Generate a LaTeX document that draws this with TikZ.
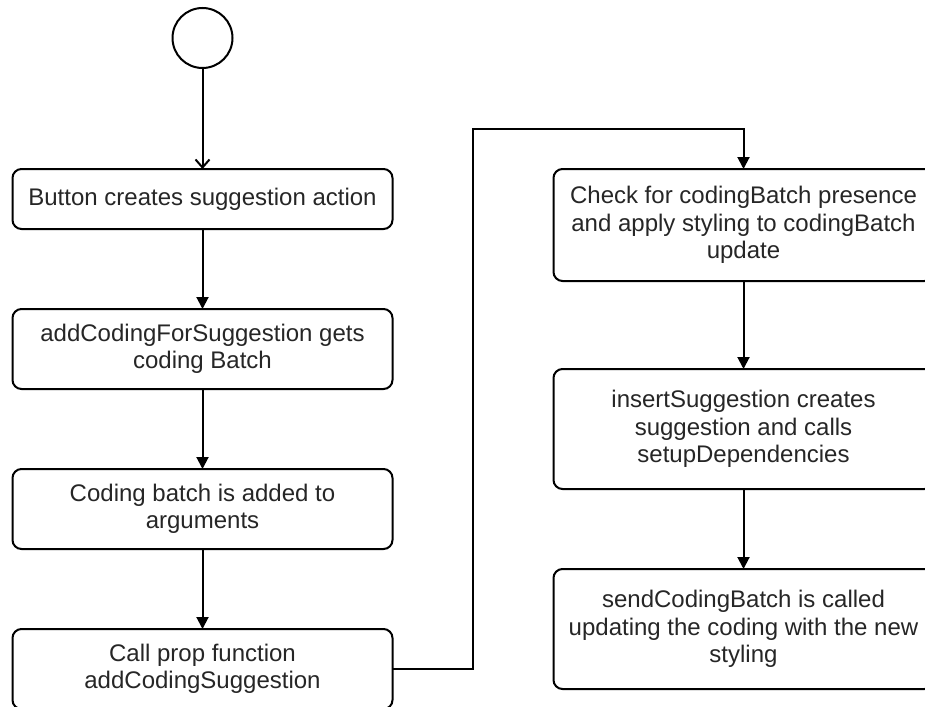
\documentclass[tikz,border=0pt]{standalone}
\usepackage{fontspec}
\setmainfont{Liberation Sans}
\usetikzlibrary{positioning,arrows.meta}

\tikzstyle{stepbox} = [rectangle, rounded corners=9pt, minimum width=380pt, minimum height=60pt, outer sep=0pt, text centered, align=center, draw=black, fill=white, line width=2pt, text=black!85, font=\fontsize{24}{27.5}\selectfont]
\tikzstyle{startcircle} = [circle, minimum size=60pt, inner sep=0pt, outer sep=0pt, draw=black, line width=2pt]
\tikzstyle{arrow} = [line width=2pt, -{Triangle[length=12pt,width=12pt]}]
\tikzstyle{open_arrow} = [line width=2pt, -{Straight Barb[length=8pt,width=14pt]}]

\begin{document}
\begin{tikzpicture}[x=1pt, y=-1pt, node distance=80pt]
    \clip (0,0) rectangle (925,706);

    % Nodes
    \node (start) [startcircle] at (202.5,38) {};
    \node (button) [stepbox, below=101pt of start] {Button creates suggestion action};
    \node (getbatch) [stepbox, minimum height=80pt, below=of button] {addCodingForSuggestion gets\\coding Batch};
    \node (addargs) [stepbox, minimum height=80pt, below=of getbatch] {Coding batch is added to\\arguments};
    \node (callprop) [stepbox, minimum height=80pt, below=of addargs] {Call prop function\\addCodingSuggestion};

    \node (check) [stepbox, minimum height=112pt, right=161pt of button.north east, anchor=north west] {Check for codingBatch presence\\and apply styling to codingBatch\\update};
    \node (insert) [stepbox, minimum height=120pt, below=88pt of check] {insertSuggestion creates\\suggestion and calls\\setupDependencies};
    \node (send) [stepbox, minimum height=120pt, below=of insert] {sendCodingBatch is called\\updating the coding with the new\\styling};

    \coordinate (turn) at (472.5,129);

    % Arrows
    \draw [open_arrow] (start) -- (button);
    \draw [arrow] (button) -- (getbatch);
    \draw [arrow] (getbatch) -- (addargs);
    \draw [arrow] (addargs) -- (callprop);

    \draw [arrow] (callprop.east) -| (turn) -| (check.north);

    \draw [arrow] (check) -- (insert);
    \draw [arrow] (insert) -- (send);

\end{tikzpicture}
\end{document}
